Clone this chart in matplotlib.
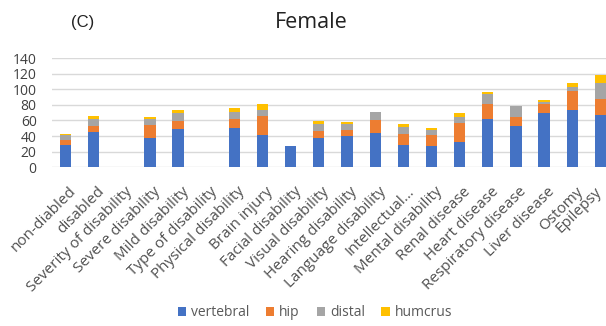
import matplotlib
matplotlib.use("Agg")
import matplotlib.pyplot as plt
import matplotlib.transforms as mtransforms
import numpy as np

plt.rcParams['font.family'] = ['Open Sans', 'DejaVu Sans']

categories = ["non-diabled", "disabled", "Severity of disability", "Severe disability",
              "Mild disability", "Type of disability", "Physical disability", "Brain injury",
              "Facial disability", "Visual disability", "Hearing disability",
              "Language disability", "Intellectual\u2026", "Mental disability",
              "Renal disease", "Heart disease", "Respiratory disease", "Liver disease",
              "Ostomy", "Epilepsy"]

vertebral = [28, 45, 0, 38, 48.5, 0, 50.5, 41.5, 27, 37, 39.5, 44, 29, 27, 32, 61.5, 53, 70, 73.5, 66.5]
hip       = [7, 7.5, 0, 16, 11, 0, 11.5, 24.5, 0, 10, 8.5, 16, 14, 14, 25, 19.5, 12, 11, 24, 21]
distal    = [6, 10, 0, 7.5, 10.5, 0, 9, 7.5, 0, 9, 7.5, 11, 8, 7, 8, 13, 13.5, 3, 5, 20]
humerus   = [2, 3.5, 0, 3.5, 4, 0, 4.5, 7.5, 0, 3.5, 3, 0, 4, 2.5, 4, 3, 0, 2.5, 5, 10.5]

series = [("vertebral", vertebral, "#4472C4"),
          ("hip", hip, "#ED7D31"),
          ("distal", distal, "#A5A5A5"),
          ("humcrus", humerus, "#FFC000")]

fig = plt.figure(figsize=(6.06, 3.26), dpi=100)
ax = fig.add_axes([52/606, (326-167.3)/326, 1 - 52/606, (167.3-58)/326])

x = np.arange(len(categories))
bottom = np.zeros(len(categories))
for name, vals, col in series:
    v = np.array(vals, dtype=float)
    ax.bar(x, v, width=0.4, bottom=bottom, color=col, label=name, zorder=3)
    bottom += v

ax.set_xlim(-0.48, 19.2)
ax.set_ylim(0, 140)
ax.set_yticks(np.arange(0, 141, 20))
ax.yaxis.grid(True, color="#D9D9D9", linewidth=1, zorder=0)
for s in ["top", "right", "left", "bottom"]:
    ax.spines[s].set_visible(False)
ax.tick_params(axis="both", length=0)
ax.tick_params(axis="y", labelsize=10, colors="#404040", pad=11)
ax.set_xticks(x)
ax.set_xticklabels(categories, rotation=45, ha="right", rotation_mode="anchor",
                   fontsize=11, color="#505050")
ax.tick_params(axis="x", pad=12)
labels = ax.get_xticklabels()
for i, lab in enumerate(labels):
    dx = 3 if i < len(labels) - 1 else -6
    lab.set_transform(lab.get_transform() +
                      mtransforms.ScaledTranslation(dx/100, 0, fig.dpi_scale_trans))

fig.text(311/606, 1 - 22/326, "Female", ha="center", va="center", fontsize=15.5, color="#222222")
fig.text(83/606, 1 - 22/326, "(C)", ha="center", va="center", fontsize=12, color="#222222",
         family=["Liberation Sans Narrow", "Liberation Sans", "DejaVu Sans"])

fig.legend(loc="center", bbox_to_anchor=(315/606, 1 - 313/326), ncol=4, frameon=False,
           fontsize=10, handlelength=0.6, handleheight=0.6, handletextpad=0.35,
           columnspacing=1.2, labelcolor="#595959")

fig.savefig("out.png", dpi=100)
